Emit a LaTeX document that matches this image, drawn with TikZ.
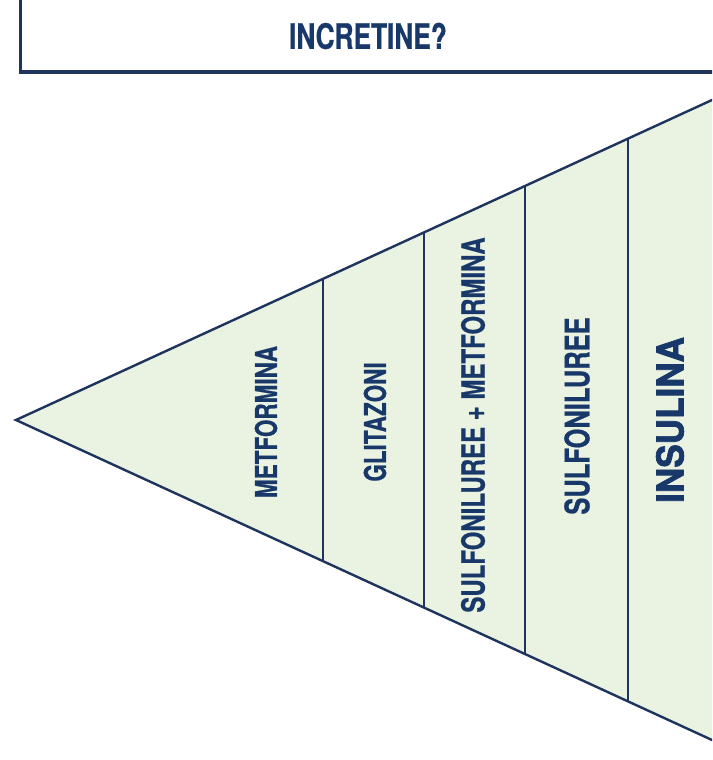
\documentclass[tikz,border=0pt]{standalone}
\usepackage{fontspec}
\setmainfont{TeX Gyre Heros}
\newfontfamily\narrowfont{TeX Gyre Heros}[FakeStretch=0.75, BoldFeatures={FakeBold=0.6}]
\newfontfamily\heavyfont{TeX Gyre Heros}[FakeStretch=0.95, BoldFeatures={FakeBold=2}]
\usetikzlibrary{calc}

\definecolor{edgeblue}{RGB}{30,52,92}
\definecolor{textblue}{RGB}{24,56,106}
\definecolor{drugfill}{RGB}{234,243,226}

\tikzset{
  drug/.style={text=textblue, rotate=90, inner sep=0pt,
    font=\narrowfont\bfseries\fontsize{30}{30}\selectfont},
  bigdrug/.style={drug, font=\narrowfont\bfseries\fontsize{34}{34}\selectfont},
  divider/.style={edgeblue, line width=1.6pt},
}

\begin{document}
\begin{tikzpicture}[x=1pt,y=-1pt]
    \clip (0,0) rectangle (712,760);
    \fill[white] (0,0) rectangle (712,760);

    % top box
    \draw[edgeblue, line width=3pt] (20,-5) rectangle (740,72);
    \node (incretine) at (368,36) [text=textblue, font=\narrowfont\bfseries\fontsize{35}{35}\selectfont] {INCRETINE?};

    % wedge
    \coordinate (apex) at (16,420);
    \coordinate (tr) at (712,100);
    \coordinate (br) at (712,740);
    \filldraw[fill=drugfill, draw=edgeblue, line width=2.4pt, line join=miter]
      ($(apex)!1.05!(tr)$) -- (apex) -- ($(apex)!1.05!(br)$) -- cycle;

    \foreach \t in {0.4411,0.5862,0.7313,0.8793}
      \draw[divider] ($(apex)!\t!(tr)$) -- ($(apex)!\t!(br)$);

    \node (metformina) at (266,422) [drug] {METFORMINA};
    \node (glitazoni) at (375,422) [drug] {GLITAZONI};
    \node (combo) at (473,425) [drug, font=\narrowfont\bfseries\fontsize{32}{32}\selectfont] {SULFONILUREE + METFORMINA};
    \node (sulfoniluree) at (577,416) [bigdrug] {SULFONILUREE};
    \node (insulina) at (670,420) [drug, font=\heavyfont\bfseries\fontsize{37}{37}\selectfont] {INSULINA};
  \end{tikzpicture}
\end{document}
